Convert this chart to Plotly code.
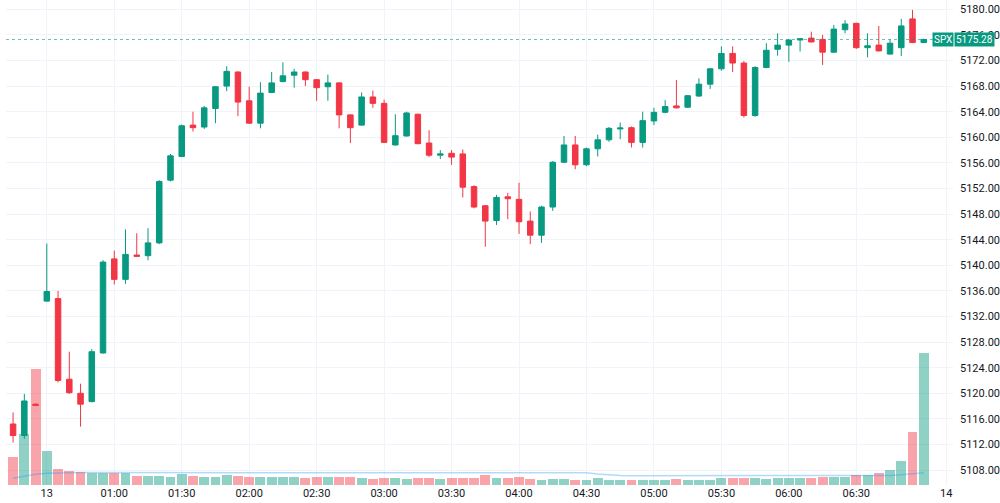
import plotly.graph_objects as go

# ---- data (5-minute candles) ----
opens = [5115.2, 5113.4, 5118.3, 5134.4, 5134.8, 5122.2, 5120.0, 5118.7, 5126.3, 5141.0,
         5137.8, 5141.6, 5141.5, 5143.5, 5153.3, 5157.0, 5161.9, 5161.6, 5164.5, 5168.0,
         5170.2, 5165.7, 5162.2, 5167.0, 5168.7, 5169.7, 5170.2, 5169.0, 5167.9, 5168.5,
         5163.5, 5161.9, 5166.3, 5165.3, 5158.8, 5160.2, 5163.6, 5159.1, 5157.2, 5157.5,
         5157.4, 5152.3, 5149.3, 5147.0, 5150.7, 5150.3, 5146.9, 5144.7, 5149.1, 5156.1,
         5158.8, 5155.7, 5158.2, 5159.6, 5161.3, 5161.5, 5159.2, 5162.55, 5163.9, 5164.9,
         5164.7, 5166.45, 5168.3, 5170.7, 5173.1, 5171.6, 5163.4, 5170.9, 5173.75, 5174.4,
         5175.2, 5175.5, 5175.3, 5173.3, 5176.8, 5177.8, 5174.0, 5174.4, 5173.0, 5174.0,
         5178.5, 5174.8]
highs = [5117.0, 5119.9, 5118.4, 5143.4, 5136.0, 5126.5, 5121.5, 5126.9, 5140.8, 5142.3,
         5145.6, 5145.0, 5145.8, 5153.3, 5157.4, 5162.0, 5164.0, 5164.9, 5168.0, 5171.1,
         5170.3, 5167.9, 5168.6, 5170.2, 5171.7, 5170.7, 5170.3, 5169.1, 5169.8, 5168.6,
         5163.6, 5167.0, 5167.3, 5165.9, 5163.6, 5164.0, 5163.7, 5161.1, 5158.0, 5158.0,
         5158.1, 5152.5, 5149.4, 5151.0, 5151.3, 5152.9, 5148.4, 5149.3, 5156.3, 5160.2,
         5160.2, 5158.4, 5160.4, 5161.6, 5162.3, 5161.7, 5164.0, 5164.6, 5165.8, 5168.95,
         5166.6, 5169.2, 5170.8, 5174.2, 5174.2, 5171.9, 5171.1, 5174.7, 5176.25, 5175.3,
         5175.5, 5176.5, 5176.0, 5177.55, 5178.3, 5177.9, 5176.25, 5177.4, 5175.3, 5178.5,
         5179.9, 5175.4]
lows = [5112.3, 5112.9, 5118.0, 5134.3, 5121.7, 5119.9, 5114.8, 5118.6, 5126.2, 5137.0,
        5137.1, 5141.3, 5140.8, 5143.3, 5153.1, 5156.9, 5160.9, 5161.3, 5162.2, 5167.2,
        5163.3, 5162.1, 5161.4, 5166.9, 5168.6, 5167.75, 5168.0, 5165.7, 5165.7, 5161.4,
        5159.1, 5161.8, 5164.6, 5159.1, 5158.7, 5160.1, 5158.9, 5156.9, 5156.6, 5155.7,
        5150.6, 5148.9, 5142.9, 5146.3, 5147.2, 5144.9, 5143.3, 5143.5, 5148.5, 5156.0,
        5155.0, 5155.5, 5157.0, 5159.3, 5159.7, 5158.4, 5158.4, 5161.9, 5163.75, 5164.5,
        5164.6, 5166.3, 5167.55, 5170.4, 5170.2, 5163.1, 5163.2, 5170.8, 5172.75, 5171.8,
        5173.4, 5174.8, 5171.3, 5173.2, 5176.25, 5173.8, 5172.5, 5173.4, 5172.9, 5172.7,
        5174.7, 5174.7]
closes = [5113.4, 5118.8, 5118.1, 5135.9, 5122.0, 5120.1, 5118.3, 5126.5, 5140.5, 5137.8,
          5141.7, 5141.4, 5143.5, 5153.1, 5157.1, 5161.8, 5161.5, 5164.6, 5167.9, 5170.3,
          5165.5, 5162.2, 5166.9, 5168.5, 5169.6, 5170.2, 5169.0, 5167.75, 5168.5, 5163.5,
          5161.5, 5166.3, 5165.3, 5159.2, 5160.25, 5163.8, 5159.0, 5157.2, 5157.4, 5156.9,
          5152.2, 5149.1, 5146.9, 5150.6, 5150.4, 5146.8, 5144.7, 5149.1, 5156.1, 5158.8,
          5155.7, 5158.2, 5159.6, 5161.4, 5161.45, 5159.2, 5162.6, 5163.9, 5164.8, 5164.6,
          5166.5, 5168.3, 5170.7, 5173.1, 5171.6, 5163.4, 5170.9, 5173.6, 5174.4, 5175.2,
          5175.4, 5174.9, 5173.3, 5176.9, 5177.7, 5174.0, 5174.3, 5173.5, 5174.7, 5177.4,
          5174.8, 5175.28]
volumes = [27.7, 51.0, 116.0, 34.0, 16.0, 13.7, 12.7, 11.7, 11.7, 11.7,
           11.7, 9.3, 9.3, 8.7, 8.0, 11.0, 8.7, 8.0, 8.3, 9.7,
           9.0, 7.7, 7.7, 7.7, 7.7, 7.7, 7.0, 7.7, 7.7, 7.7,
           7.7, 6.7, 5.7, 7.0, 6.7, 6.0, 7.0, 6.7, 6.0, 6.7,
           6.7, 6.7, 9.7, 6.7, 7.3, 8.0, 6.0, 5.3, 6.0, 6.0,
           5.3, 5.3, 6.7, 5.3, 5.3, 5.3, 5.3, 5.3, 5.3, 6.0,
           4.7, 5.3, 5.3, 7.3, 7.3, 7.3, 6.7, 6.0, 7.3, 6.7,
           6.7, 6.7, 8.0, 8.0, 8.0, 10.3, 10.3, 12.0, 15.0, 23.7,
           53.0, 132.0]
volume_ma = [6.7, 8.5, 10.8, 11.8, 12.2, 12.4, 12.4, 12.4, 12.4, 12.4,
             12.4, 12.4, 12.4, 12.4, 12.4, 12.4, 12.4, 12.4, 12.4, 12.4,
             12.4, 12.6, 12.6, 12.6, 12.6, 12.6, 12.6, 12.6, 12.6, 12.6,
             12.6, 12.6, 12.6, 12.6, 12.6, 12.6, 12.6, 12.6, 12.6, 12.6,
             12.6, 12.7, 12.7, 12.7, 12.7, 12.7, 12.7, 12.7, 12.7, 12.7,
             12.7, 12.2, 11.0, 10.0, 9.5, 9.3, 9.3, 9.3, 9.3, 9.3,
             9.3, 9.3, 9.3, 9.3, 9.3, 9.3, 9.3, 9.3, 9.3, 9.3,
             9.3, 9.3, 9.3, 9.3, 9.3, 9.3, 9.3, 9.3, 9.6, 10.2,
             10.9, 12.3]
bar_index = list(range(len(opens)))
x_tick_pos = [3, 9, 15, 21, 27, 33, 39, 45, 51, 57, 63, 69, 75, 83]
x_tick_text = ["13", "01:00", "01:30", "02:00", "02:30", "03:00", "03:30", "04:00",
               "04:30", "05:00", "05:30", "06:00", "06:30", "14"]
price_ticks = [5108 + 4 * k for k in range(19)]
symbol = "SPX"
last_price = closes[-1]

UP = "#089981"
DOWN = "#F23645"
UP_VOL = "rgba(8,153,129,0.45)"
DOWN_VOL = "rgba(242,54,69,0.45)"
GRID = "#F0F3FA"
TXT = "#131722"

vol_colors = [UP_VOL if c >= o else DOWN_VOL for o, c in zip(opens, closes)]

fig = go.Figure()
fig.add_trace(go.Bar(x=bar_index, y=volumes, marker=dict(color=vol_colors, line=dict(width=0)),
                     width=0.88, yaxis="y", hoverinfo="skip", showlegend=False))
fig.add_trace(go.Scatter(x=bar_index, y=volume_ma, mode="lines", yaxis="y",
                         line=dict(color="rgba(33,150,243,0.35)", width=1.5),
                         hoverinfo="skip", showlegend=False))
fig.add_trace(go.Candlestick(x=bar_index, open=opens, high=highs, low=lows, close=closes,
                             yaxis="y2", whiskerwidth=0,
                             increasing=dict(line=dict(color=UP, width=1), fillcolor=UP),
                             decreasing=dict(line=dict(color=DOWN, width=1), fillcolor=DOWN),
                             showlegend=False))

fig.update_layout(
    width=1000, height=503,
    margin=dict(l=6, r=43, t=0, b=18),
    paper_bgcolor="white", plot_bgcolor="white",
    font=dict(family="Roboto, Open Sans, sans-serif", size=11, color=TXT),
    showlegend=False,
    bargap=0,
    xaxis=dict(range=[-0.63, 83.6], tickmode="array", tickvals=x_tick_pos, ticktext=x_tick_text,
               showgrid=True, gridcolor=GRID, gridwidth=1, zeroline=False, showline=False,
               ticks="", rangeslider=dict(visible=False), tickfont=dict(size=11, color=TXT)),
    yaxis=dict(range=[0, 485], visible=False, showgrid=False, zeroline=False, fixedrange=True),
    yaxis2=dict(range=[5105.67, 5181.45], overlaying="y", side="right",
                tickmode="array", tickvals=price_ticks,
                ticktext=[f"{v:.2f}" for v in price_ticks],
                showgrid=True, gridcolor=GRID, gridwidth=1, zeroline=False, showline=False,
                ticks="", ticklabelstandoff=6, tickfont=dict(size=11, color=TXT)),
)

# last-price dotted line
fig.add_shape(type="line", xref="paper", yref="y2", x0=0, x1=0.979,
              y0=last_price, y1=last_price,
              line=dict(color="rgba(8,153,129,0.6)", width=1, dash="dot"))

# price label boxes
fig.add_annotation(xref="paper", yref="y2", x=(947 - 6) / 951, y=last_price, text=symbol,
                   showarrow=False, xanchor="center", yanchor="middle",
                   bgcolor=UP, font=dict(color="white", size=10), borderpad=1)
fig.add_annotation(xref="paper", yref="y2", x=(978.5 - 6) / 951, y=last_price,
                   text=f"{last_price:.2f}",
                   showarrow=False, xanchor="center", yanchor="middle",
                   bgcolor=UP, font=dict(color="white", size=10), borderpad=1)

fig.write_html("out.html")
